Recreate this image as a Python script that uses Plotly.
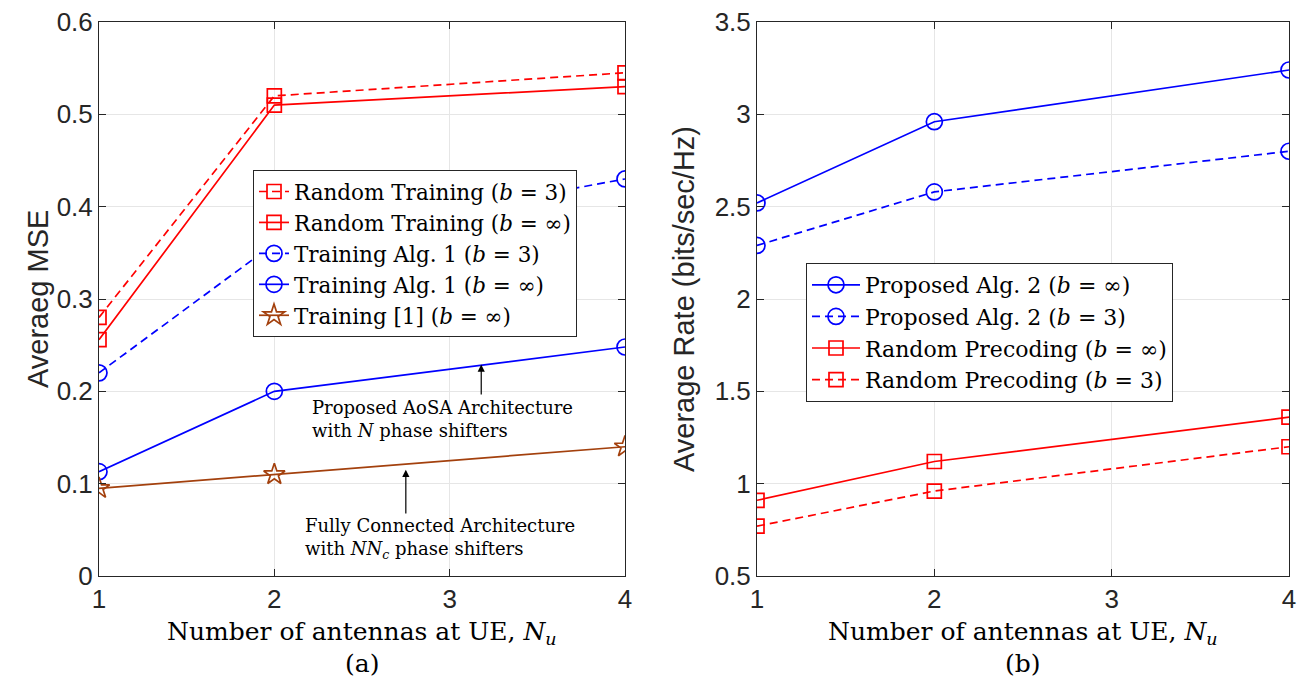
import plotly.graph_objects as go

# Number of UE antennas
nu = [1, 2, 4]

# (a) Average MSE
mse_rand_b3 = [0.28, 0.52, 0.545]
mse_rand_inf = [0.256, 0.51, 0.53]
mse_alg1_b3 = [0.22, 0.36, 0.43]
mse_alg1_inf = [0.113, 0.20, 0.248]
mse_ref1_inf = [0.095, 0.11, 0.14]

# (b) Average rate
rate_alg2_inf = [2.52, 2.96, 3.24]
rate_alg2_b3 = [2.29, 2.58, 2.80]
rate_rand_inf = [0.91, 1.12, 1.36]
rate_rand_b3 = [0.77, 0.96, 1.20]

RED = "#FF0000"
BLUE = "#0000FF"
BROWN = "#A3400D"
DASH = "8px,5px"
SERIF = "DejaVu Serif"
SANS = "Liberation Sans"

W, H = 1304, 677


def px_x(p):
    return p / W


def px_y(p):
    return (H - p) / H


fig = go.Figure()


def add(x, y, name, color, symbol, dash, size, xa, ya, legend):
    fig.add_trace(go.Scatter(
        x=x, y=y, name=name, mode="lines+markers",
        line=dict(color=color, width=1.7, dash=dash),
        marker=dict(symbol=symbol, size=size, color=color,
                    line=dict(color=color, width=1.7)),
        xaxis=xa, yaxis=ya, legend=legend,
    ))


b3 = "(<i>b</i> = 3)"
binf = "(<i>b</i> = ∞)"

add(nu, mse_rand_b3, f"Random Training {b3}", RED, "square-open", DASH, 14, "x", "y", "legend")
add(nu, mse_rand_inf, f"Random Training {binf}", RED, "square-open", "solid", 14, "x", "y", "legend")
add(nu, mse_alg1_b3, f"Training Alg. 1 {b3}", BLUE, "circle-open", DASH, 16, "x", "y", "legend")
add(nu, mse_alg1_inf, f"Training Alg. 1 {binf}", BLUE, "circle-open", "solid", 16, "x", "y", "legend")
add(nu, mse_ref1_inf, f"Training [1] {binf}", BROWN, "star-open", "solid", 16, "x", "y", "legend")

add(nu, rate_alg2_inf, f"Proposed Alg. 2 {binf}", BLUE, "circle-open", "solid", 16, "x2", "y2", "legend2")
add(nu, rate_alg2_b3, f"Proposed Alg. 2 {b3}", BLUE, "circle-open", DASH, 16, "x2", "y2", "legend2")
add(nu, rate_rand_inf, f"Random Precoding {binf}", RED, "square-open", "solid", 14, "x2", "y2", "legend2")
add(nu, rate_rand_b3, f"Random Precoding {b3}", RED, "square-open", DASH, 14, "x2", "y2", "legend2")

axis_common = dict(
    showline=True, linecolor="#262626", linewidth=1, mirror="ticks",
    ticks="inside", ticklen=7, tickcolor="#262626",
    showgrid=True, gridcolor="#E6E6E6", gridwidth=1, zeroline=False,
    automargin=False,
    tickfont=dict(family=SANS, size=26, color="#262626"),
)

ydom = [px_y(576), px_y(22)]

fig.update_layout(
    width=W, height=H, autosize=False,
    margin=dict(l=0, r=0, t=0, b=0),
    paper_bgcolor="white", plot_bgcolor="white",
    showlegend=True,
    xaxis=dict(domain=[px_x(99), px_x(625)], range=[1, 4], tickvals=[1, 2, 3, 4],
               anchor="y", **axis_common),
    yaxis=dict(domain=ydom, range=[0, 0.6], dtick=0.1, tick0=0, anchor="x",
               **axis_common),
    xaxis2=dict(domain=[px_x(757), px_x(1289)], range=[1, 4], tickvals=[1, 2, 3, 4],
                anchor="y2", **axis_common),
    yaxis2=dict(domain=ydom, range=[0.5, 3.5], dtick=0.5, tick0=0.5, anchor="x2",
                **axis_common),
    legend=dict(x=px_x(253), y=px_y(170), xanchor="left", yanchor="top",
                bgcolor="white", bordercolor="#262626", borderwidth=1,
                font=dict(family=SERIF, size=21.5, color="black"),
                tracegroupgap=0, itemwidth=30),
    legend2=dict(x=px_x(806), y=px_y(263), xanchor="left", yanchor="top",
                 bgcolor="white", bordercolor="#262626", borderwidth=1,
                 font=dict(family=SERIF, size=22, color="black"),
                 tracegroupgap=0, itemwidth=48),
)

ann = []

# axis titles and panel labels
for cx, tag in [((99 + 625) / 2, "(a)"), ((757 + 1289) / 2, "(b)")]:
    ann.append(dict(x=px_x(cx), y=px_y(633), xref="paper", yref="paper",
                    text="Number of antennas at UE, <i>N</i><sub><i>u</i></sub>",
                    showarrow=False, xanchor="center", yanchor="middle",
                    font=dict(family=SERIF, size=25, color="black")))
    ann.append(dict(x=px_x(cx), y=px_y(663), xref="paper", yref="paper",
                    text=tag, showarrow=False, xanchor="center", yanchor="middle",
                    font=dict(family=SERIF, size=25, color="black")))

ann.append(dict(x=px_x(38), y=px_y(299), xref="paper", yref="paper",
                text="Averaeg MSE", textangle=-90, showarrow=False,
                xanchor="center", yanchor="middle",
                font=dict(family=SANS, size=29, color="#262626")))
ann.append(dict(x=px_x(684), y=px_y(299), xref="paper", yref="paper",
                text="Average Rate (bits/sec/Hz)", textangle=-90, showarrow=False,
                xanchor="center", yanchor="middle",
                font=dict(family=SANS, size=29, color="#262626")))

# arrows pointing at curves in panel (a)
ann.append(dict(x=3.18, y=0.229, ax=3.18, ay=0.195, xref="x", yref="y",
                axref="x", ayref="y", text="", showarrow=True,
                arrowhead=2, arrowsize=1.2, arrowwidth=1.2, arrowcolor="black"))
ann.append(dict(x=2.75, y=0.115, ax=2.75, ay=0.066, xref="x", yref="y",
                axref="x", ayref="y", text="", showarrow=True,
                arrowhead=2, arrowsize=1.2, arrowwidth=1.2, arrowcolor="black"))

ann.append(dict(x=px_x(310), y=px_y(419), xref="paper", yref="paper",
                text="Proposed AoSA Architecture<br>with <i>N</i> phase shifters",
                align="left", showarrow=False, xanchor="left", yanchor="middle",
                font=dict(family=SERIF, size=18, color="black")))
ann.append(dict(x=px_x(303), y=px_y(538), xref="paper", yref="paper",
                text="Fully Connected Architecture<br>with <i>NN</i><sub><i>c</i></sub> phase shifters",
                align="left", showarrow=False, xanchor="left", yanchor="middle",
                font=dict(family=SERIF, size=18, color="black")))

fig.update_layout(annotations=ann)

fig.write_html("out.html")
